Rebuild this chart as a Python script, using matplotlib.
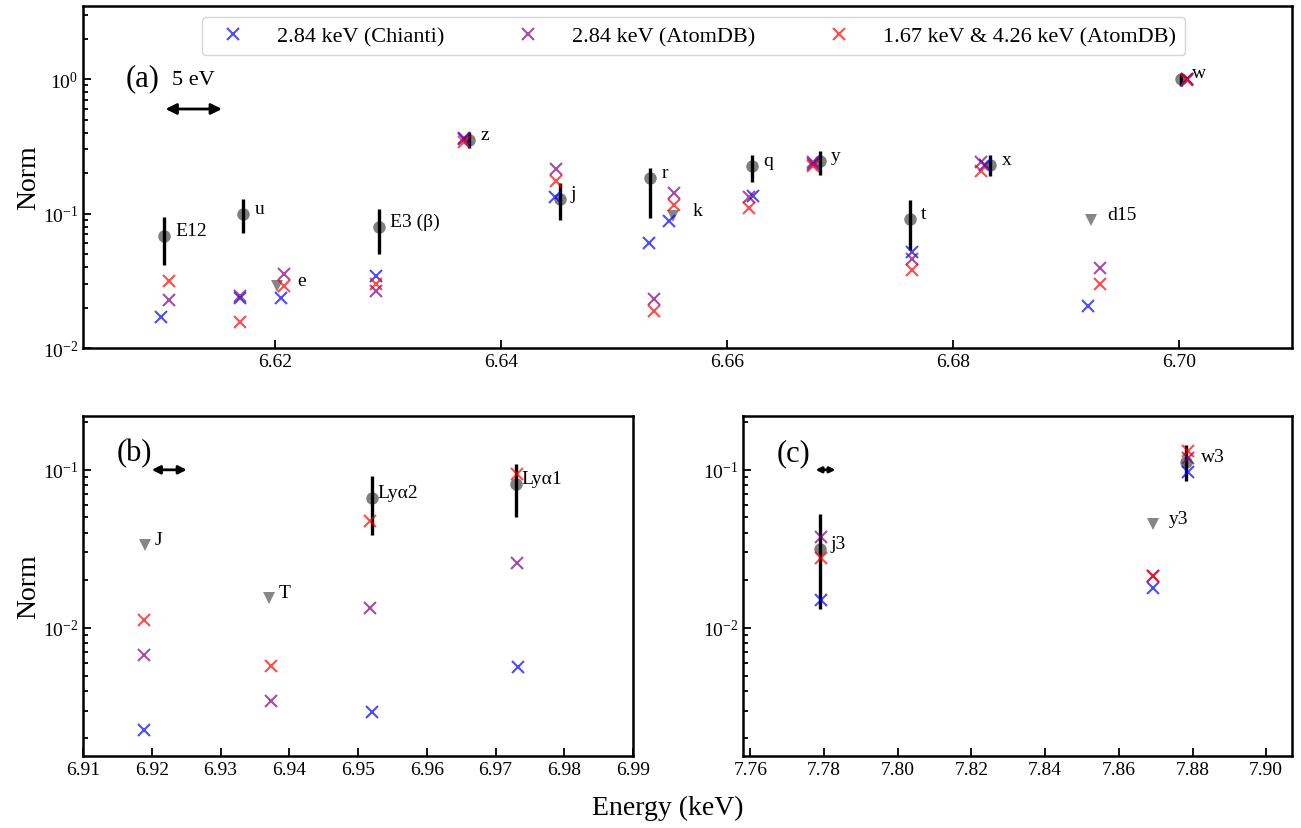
import numpy as np
import matplotlib
matplotlib.use("Agg")
from matplotlib import pyplot as plt
from matplotlib.ticker import FixedLocator, FormatStrFormatter

plt.rcParams['font.family'] = ['Liberation Serif', 'DejaVu Serif']
plt.rcParams['mathtext.fontset'] = 'stix'

# ---------------- panel (a): Fe XXV He-alpha region ----------------
a_det_names = ['E12', 'u', 'E3 (β)', 'z', 'j', 'r', 'q', 'y', 't', 'x', 'w']
a_det_E = [6.6102, 6.6172, 6.6292, 6.6372, 6.6452, 6.6532, 6.6622, 6.6682, 6.6762, 6.6833, 6.7002]
a_det_N = [0.0677, 0.100, 0.0794, 0.354, 0.128, 0.184, 0.227, 0.245, 0.091, 0.231, 1.0]
a_det_lo = [0.0414, 0.0716, 0.050, 0.305, 0.090, 0.092, 0.172, 0.193, 0.0538, 0.189, 0.89]
a_det_hi = [0.094, 0.128, 0.108, 0.408, 0.168, 0.217, 0.272, 0.293, 0.126, 0.275, 1.09]

a_ul_names = ['e', 'k', 'd15']
a_ul_E = [6.6202, 6.6552, 6.6922]
a_ul_N = [0.0290, 0.0953, 0.0895]

# model lines: E12, u, e, E3, z, j, r, k, q, y, t, x, d15, w
a_chianti_E = [6.6099, 6.6169, 6.6205, 6.6289, 6.6367, 6.6448, 6.6531, 6.6549, 6.6623, 6.6676, 6.6764, 6.6828, 6.6919, 6.7007]
a_chianti_N = [0.0169, 0.0235, 0.0235, 0.0345, 0.360, 0.134, 0.060, 0.0885, 0.136, 0.235, 0.052, 0.229, 0.0206, 1.0]
a_atomdb_E = [6.6106, 6.6169, 6.6208, 6.6289, 6.6367, 6.6449, 6.6535, 6.6553, 6.6619, 6.6676, 6.6764, 6.6825, 6.6930, 6.7007]
a_atomdb_N = [0.0229, 0.0244, 0.0355, 0.0264, 0.368, 0.214, 0.0231, 0.142, 0.134, 0.243, 0.0459, 0.240, 0.0393, 1.0]
a_twoT_N = [0.0313, 0.0157, 0.0288, 0.0299, 0.342, 0.175, 0.0187, 0.1156, 0.111, 0.227, 0.038, 0.206, 0.0299, 0.99]

# ---------------- panel (b): Fe XXVI Ly-alpha region ----------------
b_det_names = ['Lyα2', 'Lyα1']
b_det_E = [6.9520, 6.9730]
b_det_N = [0.0659, 0.0812]
b_det_lo = [0.0388, 0.050]
b_det_hi = [0.0916, 0.1096]

b_ul_names = ['J', 'T']
b_ul_E = [6.9190, 6.9370]
b_ul_N = [0.0336, 0.0154]

# model lines: J, T, Lya2, Lya1
b_chianti_E = [6.9188, 6.9373, 6.9521, 6.9733]
b_chianti_N = [0.00227, np.nan, 0.00293, 0.0057]
b_atomdb_E = [6.9188, 6.9373, 6.9518, 6.9731]
b_atomdb_N = [0.00675, 0.00344, 0.0133, 0.0258]
b_twoT_N = [0.0113, 0.00578, 0.0472, 0.094]

# ---------------- panel (c): Fe XXV He-beta region ----------------
c_det_names = ['j3', 'w3']
c_det_E = [7.7788, 7.8782]
c_det_N = [0.0317, 0.1117]
c_det_lo = [0.0131, 0.0848]
c_det_hi = [0.0522, 0.1425]

c_ul_names = ['y3']
c_ul_E = [7.8693]
c_ul_N = [0.0452]

# model lines: j3, y3, w3
c_chianti_E = [7.7791, 7.8693, 7.8787]
c_chianti_N = [0.0151, 0.0179, 0.0967]
c_atomdb_E = [7.7791, 7.8693, 7.8787]
c_atomdb_N = [0.0376, 0.0213, 0.1185]
c_twoT_N = [0.0277, 0.0213, 0.1324]

legend_labels = ['2.84 keV (Chianti)', '2.84 keV (AtomDB)', '1.67 keV & 4.26 keV (AtomDB)']

# label offsets (points) for annotations that sit further from their marker
label_offset = {'e': (14, 4), 'k': (14, 4), 'd15': (12, 4), 'J': (7, 4), 'T': (7, 4),
                'Lyα2': (4, 4), 'Lyα1': (4, 4), 'y3': (11, 4), 'w3': (11, 4), 'w': (8, 5)}


def draw_panel(ax, det_E, det_N, det_lo, det_hi, det_names, ul_E, ul_N, ul_names,
               ch_E, ch_N, adb_E, adb_N, two_N):
    det_N = np.array(det_N)
    yerr = [det_N - np.array(det_lo), np.array(det_hi) - det_N]
    ax.plot(det_E, det_N, 'o', color='k', alpha=0.5, ms=9, mew=0, zorder=2)
    ax.errorbar(det_E, det_N, yerr=yerr, fmt='none', ecolor='k', elinewidth=2.4, capsize=0, zorder=3)
    ax.plot(ul_E, ul_N, 'v', color='gray', alpha=0.95, ms=9, mew=0, zorder=2)

    ax.plot(ch_E, ch_N, 'x', color='blue', alpha=0.7, ms=8, mew=1.5, ls='none', label=legend_labels[0], zorder=4)
    ax.plot(adb_E, adb_N, 'x', color='purple', alpha=0.7, ms=8, mew=1.5, ls='none', label=legend_labels[1], zorder=4)
    ax.plot(adb_E, two_N, 'x', color='red', alpha=0.7, ms=8, mew=1.5, ls='none', label=legend_labels[2], zorder=5)

    for e, n, name in list(zip(det_E, det_N, det_names)) + list(zip(ul_E, ul_N, ul_names)):
        off = label_offset.get(name, (8, 4))
        ax.annotate(name, (e, n), xytext=off, textcoords='offset points',
                    ha='left', va='center', fontsize=14)

    ax.set_yscale('log')
    ax.tick_params(which='both', direction='in', width=1.3, labelsize=14)
    ax.tick_params(which='major', length=6)
    ax.tick_params(which='minor', length=3.5)
    for s in ax.spines.values():
        s.set_linewidth(1.8)


fig = plt.figure(figsize=(13.01, 8.29), dpi=100)
ax_a = fig.add_axes([0.0638, 0.579, 0.9293, 0.4125])
ax_b = fig.add_axes([0.0638, 0.0869, 0.4228, 0.4101])
ax_c = fig.add_axes([0.5711, 0.0869, 0.422, 0.4101])

draw_panel(ax_a, a_det_E, a_det_N, a_det_lo, a_det_hi, a_det_names, a_ul_E, a_ul_N, a_ul_names,
           a_chianti_E, a_chianti_N, a_atomdb_E, a_atomdb_N, a_twoT_N)
draw_panel(ax_b, b_det_E, b_det_N, b_det_lo, b_det_hi, b_det_names, b_ul_E, b_ul_N, b_ul_names,
           b_chianti_E, b_chianti_N, b_atomdb_E, b_atomdb_N, b_twoT_N)
draw_panel(ax_c, c_det_E, c_det_N, c_det_lo, c_det_hi, c_det_names, c_ul_E, c_ul_N, c_ul_names,
           c_chianti_E, c_chianti_N, c_atomdb_E, c_atomdb_N, c_twoT_N)

ax_a.set_xlim(6.603, 6.71)
ax_a.set_ylim(0.01, 3.5)
ax_a.xaxis.set_major_locator(FixedLocator([6.62, 6.64, 6.66, 6.68, 6.70]))
ax_a.xaxis.set_major_formatter(FormatStrFormatter('%.2f'))

ax_b.set_xlim(6.91, 6.99)
ax_b.set_ylim(0.00155, 0.219)
ax_b.xaxis.set_major_locator(FixedLocator(np.arange(6.91, 6.995, 0.01)))
ax_b.xaxis.set_major_formatter(FormatStrFormatter('%.2f'))

ax_c.set_xlim(7.758, 7.907)
ax_c.set_ylim(0.00155, 0.219)
ax_c.xaxis.set_major_locator(FixedLocator(np.arange(7.76, 7.905, 0.02)))
ax_c.xaxis.set_major_formatter(FormatStrFormatter('%.2f'))

# 5 eV scale arrows
arrow = dict(arrowstyle='<|-|>', lw=2, color='k', shrinkA=0, shrinkB=0)
ax_a.annotate('', xy=(6.6153, 0.6), xytext=(6.6103, 0.6), arrowprops=dict(arrow, mutation_scale=16))
ax_a.text(6.6128, 1.0, '5 eV', ha='center', va='center', fontsize=16)
ax_b.annotate('', xy=(6.9251, 0.1), xytext=(6.9200, 0.1), arrowprops=dict(arrow, mutation_scale=12))
ax_c.annotate('', xy=(7.7831, 0.1), xytext=(7.7777, 0.1), arrowprops=dict(arrow, mutation_scale=8))

ax_a.text(0.035, 0.79, '(a)', transform=ax_a.transAxes, fontsize=22, va='center')
ax_b.text(0.062, 0.893, '(b)', transform=ax_b.transAxes, fontsize=22, va='center')
ax_c.text(0.062, 0.893, '(c)', transform=ax_c.transAxes, fontsize=22, va='center')

ax_a.set_ylabel('Norm', fontsize=20, labelpad=1)
ax_b.set_ylabel('Norm', fontsize=20, labelpad=1)
fig.text(0.513, 0.025, 'Energy (keV)', ha='center', va='center', fontsize=20)

ax_a.legend(loc='upper center', bbox_to_anchor=(0.505, 1.0), ncol=3, fontsize=16,
            handlelength=2.0, handletextpad=1.0, columnspacing=2.75, borderpad=0.4)

fig.savefig('out.png', dpi=100)
